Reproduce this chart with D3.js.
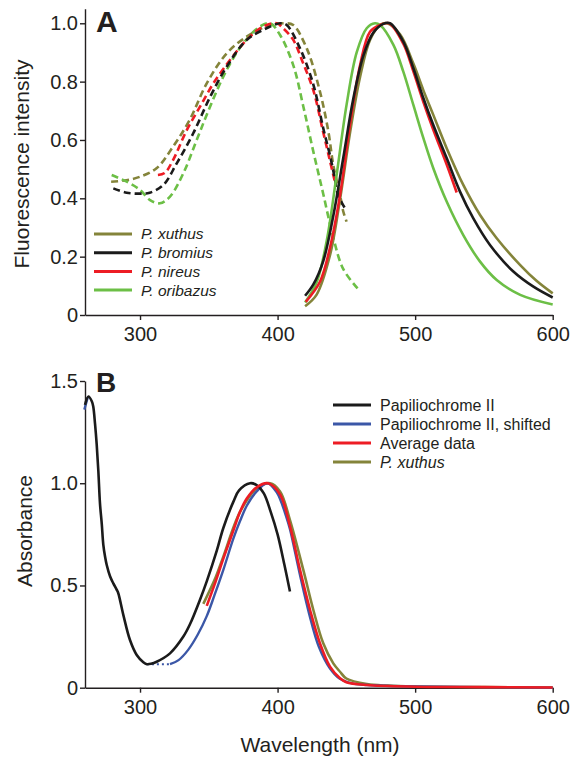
<!DOCTYPE html>
<html>
<head>
<meta charset="utf-8">
<script src="https://cdn.jsdelivr.net/npm/d3@7"></script>
<style>
    body { margin: 0; background: #fff; }
    svg text { font-family: "Liberation Sans", Arial, sans-serif; fill: #231f20; }
    .axis path, .axis line { stroke: #231f20; stroke-width: 1.4; }
    .axis text { font-size: 20px; fill: #231f20; }
</style>
</head>
<body>
<div id="chart"></div>
<script>

// ---- data ----
const wavelengthTicks = [300, 400, 500, 600];
const fluorTicks = [0, 0.2, 0.4, 0.6, 0.8, 1.0];
const absTicks = [0, 0.5, 1.0, 1.5];

const speciesNames = ["P. xuthus", "P. bromius", "P. nireus", "P. oribazus"];

// panel A, excitation (dashed)
const xuthusEx = [[279,0.457],[290,0.462],[300,0.474],[312,0.503],[324,0.577],[336,0.668],[348.5,0.794],[363,0.897],
    [377.5,0.954],[392,0.989],[406,1.0],[411.4,0.994],[421.2,0.914],[430.8,0.766],[436.9,0.629],[440.5,0.514],
    [445.4,0.411],[447.8,0.354],[450.2,0.32]];
const bromiusEx = [[280.6,0.434],[290.3,0.419],[300,0.416],[307,0.419],[317,0.446],[326.7,0.52],[338.7,0.623],[351,0.748],
    [363,0.851],[377.5,0.943],[392,0.983],[402,1.0],[406.6,0.994],[416.3,0.914],[426,0.79],[433.2,0.64],[438,0.549],
    [441.6,0.469],[444,0.411],[449,0.366]];
const nireusEx = [[313,0.48],[318,0.487],[324,0.531],[334,0.634],[343.6,0.714],[353.3,0.794],[365.4,0.874],[377.5,0.943],
    [389.6,0.989],[399.4,1.0],[404,0.983],[411.4,0.943],[418,0.87],[426,0.77],[433,0.63],[438,0.53],[442,0.45]];
const oribazusEx = [[279.4,0.48],[290.3,0.457],[300,0.429],[307.3,0.394],[314.5,0.383],[321.8,0.406],[331.5,0.486],
    [341.2,0.6],[350.9,0.714],[363,0.84],[375,0.931],[387.2,0.989],[394.5,1.0],[401.8,0.96],[411.5,0.855],[418.7,0.715],
    [426,0.56],[433.2,0.415],[440.5,0.265],[447.8,0.157],[458.7,0.088]];

// panel A, emission (solid)
const xuthusEm = [[420,0.03],[428.4,0.07],[438,0.203],[445.4,0.397],[452.6,0.623],[460,0.817],[467.2,0.943],[474.5,0.994],
    [479.3,1.0],[489,0.962],[498.7,0.862],[506,0.77],[513.2,0.686],[523,0.571],[535,0.446],[547.2,0.343],[559.3,0.263],
    [576.4,0.171],[588,0.118],[600,0.074]];
const bromiusEm = [[420,0.066],[426,0.105],[433.2,0.185],[440.5,0.34],[447.8,0.54],[455,0.74],[462.3,0.888],[469.6,0.968],
    [476.9,0.998],[481.7,1.0],[491.4,0.937],[498.7,0.846],[506,0.743],[513.2,0.651],[523,0.537],[532.6,0.423],
    [542.3,0.331],[554.4,0.24],[571.4,0.149],[586,0.097],[600,0.06]];
const nireusEm = [[420.5,0.045],[430.8,0.114],[438,0.229],[445.4,0.411],[452.6,0.651],[460,0.857],[467.2,0.971],
    [474.5,0.994],[481,1.0],[491.4,0.93],[498.7,0.835],[506,0.73],[513.2,0.635],[523,0.515],[530.2,0.42]];
const oribazusEm = [[420,0.043],[428.4,0.112],[435.7,0.254],[443,0.483],[450.2,0.722],[457.5,0.9],[464.8,0.983],
    [470.8,1.0],[474.5,0.994],[484.2,0.926],[491.4,0.834],[498.7,0.72],[506,0.606],[513.2,0.503],[523,0.388],
    [535,0.274],[547.2,0.183],[559.3,0.12],[576.4,0.069],[600,0.036]];

// panel B, absorbance
const absNames = ["Papiliochrome II", "Papiliochrome II, shifted", "Average data", "P. xuthus"];

const papII = [[260,1.383],[262.5,1.424],[265,1.40],[266,1.375],[267.3,1.29],[268.5,1.19],[269.7,1.06],[270.9,0.9],
    [272.2,0.8],[273.3,0.7],[274.6,0.64],[275.8,0.6],[278.2,0.545],[280.6,0.51],[283,0.48],[284.2,0.462],[287.9,0.355],
    [292.7,0.233],[297.6,0.16],[302.4,0.125],[305,0.115],[308,0.117],[312.1,0.127],[321.8,0.168],[331.5,0.25],
    [336.3,0.31],[343.6,0.43],[348.5,0.52],[355.8,0.67],[360.5,0.78],[367.9,0.91],[372,0.965],[380,1.0],[385,0.99],
    [390,0.95],[395,0.86],[400,0.75],[405,0.6],[409,0.47]];
const papIIShiftTip = [[259.5,1.36],[262,1.42]];
const papIIShiftGap = [[305,0.115],[321.8,0.115]];
const papIIShifted = [[321.8,0.115],[328,0.135],[335,0.185],[342,0.26],[348.5,0.35],[354,0.45],[360.5,0.575],
    [367.9,0.73],[372.7,0.815],[377.6,0.89],[384.8,0.96],[392.5,1.0],[399.4,0.955],[406.6,0.83],[409,0.775],[416,0.56],
    [423,0.36],[430,0.2],[438,0.095],[445,0.045],[455,0.02],[470,0.012],[500,0.006],[550,0.003],[600,0.0]];
const averageData = [[348.5,0.4],[355,0.52],[360.5,0.63],[367.9,0.77],[372.7,0.86],[377.6,0.925],[384.8,0.98],[393,1.0],
    [401.8,0.945],[409,0.79],[416.3,0.576],[423.6,0.38],[430.8,0.217],[438.1,0.103],[445.4,0.046],[450,0.027],
    [465,0.013],[500,0.005],[550,0.003],[600,0.001]];
const xuthusAbs = [[346,0.41],[355,0.54],[360.5,0.64],[372.7,0.86],[384.8,0.975],[394.5,1.0],[401.8,0.96],[409,0.82],
    [418.7,0.576],[426,0.38],[433.2,0.217],[440.5,0.119],[445.4,0.078],[450,0.045],[465,0.018],[480,0.01],[500,0.006],
    [550,0.003],[600,0.001]];

// ---- styles ----
const olive = "#84843a", black = "#1b1b1b", red = "#ed1c24", green = "#6cbf46", blue = "#3b57a7";

const svg = d3.select("#chart").append("svg")
    .attr("width", 571)
    .attr("height", 757);

const x = d3.scaleLinear().domain([260, 600]).range([85, 552.7]);
const yA = d3.scaleLinear().domain([0, 1.05]).range([315, 8.7]);
const yB = d3.scaleLinear().domain([0, 1.5]).range([687.7, 381]);

function drawAxes(y, ticks, yTitle, titleY, titleX) {
    svg.append("g")
        .attr("class", "axis")
        .attr("transform", "translate(0," + y.range()[0] + ")")
        .call(d3.axisBottom(x).tickValues(wavelengthTicks).tickSize(5).tickPadding(7).tickSizeOuter(0));

    svg.append("g")
        .attr("class", "axis")
        .attr("transform", "translate(" + x.range()[0] + ",0)")
        .call(d3.axisLeft(y).tickValues(ticks).tickSize(5).tickPadding(2).tickSizeOuter(0)
            .tickFormat(d => d === 0 ? "0" : d3.format(".1f")(d)));

    svg.append("text")
        .attr("transform", "translate(" + titleX + "," + titleY + ") rotate(-90)")
        .attr("text-anchor", "middle")
        .style("font-size", "21px")
        .text(yTitle);
}

function drawLine(data, y, color, dash, width) {
    let line = d3.line()
        .x(d => x(d[0]))
        .y(d => y(d[1]))
        .curve(d3.curveCatmullRom.alpha(0.5));
    svg.append("path")
        .datum(data)
        .attr("fill", "none")
        .attr("stroke", color)
        .attr("stroke-width", width || 2.6)
        .attr("stroke-dasharray", dash)
        .attr("stroke-linejoin", "round")
        .attr("d", line);
}

function drawLegend(names, colors, x0, y0, step, fontSize, italic) {
    names.forEach((name, i) => {
        let yy = y0 + i * step;
        svg.append("line")
            .attr("x1", x0).attr("x2", x0 + 38)
            .attr("y1", yy).attr("y2", yy)
            .attr("stroke", colors[i])
            .attr("stroke-width", 3);
        svg.append("text")
            .attr("x", x0 + 47)
            .attr("y", yy)
            .attr("dy", "0.35em")
            .style("font-size", fontSize + "px")
            .style("font-style", italic[i] ? "italic" : "normal")
            .text(name);
    });
}

// ---- panel A ----
drawAxes(yA, fluorTicks, "Fluorescence intensity", 164, 28.5);

const dash = "7,4";
drawLine(xuthusEx, yA, olive, dash);
drawLine(oribazusEx, yA, green, dash);
drawLine(nireusEx, yA, red, dash);
drawLine(bromiusEx, yA, black, dash);

drawLine(xuthusEm, yA, olive);
drawLine(oribazusEm, yA, green);
drawLine(nireusEm, yA, red);
drawLine(bromiusEm, yA, black);

drawLegend(speciesNames, [olive, black, red, green], 94, 234, 18.7, 15.5, [true, true, true, true]);

svg.append("text")
    .attr("x", 96).attr("y", 32)
    .style("font-size", "30px")
    .style("font-weight", "bold")
    .text("A");

// ---- panel B ----
drawAxes(yB, absTicks, "Absorbance", 531, 31.5);

drawLine(xuthusAbs, yB, olive);
drawLine(papIIShiftTip, yB, blue, null, 2.4);
drawLine(papIIShiftGap, yB, blue, "2,3", 2);
drawLine(papIIShifted, yB, blue, null, 2.4);
drawLine(papII, yB, black);
drawLine(averageData, yB, red);

drawLegend(absNames, [black, blue, red, olive], 333, 405, 19, 16, [false, false, false, true]);

svg.append("text")
    .attr("x", 96).attr("y", 392)
    .style("font-size", "28px")
    .style("font-weight", "bold")
    .text("B");

svg.append("text")
    .attr("x", 320).attr("y", 752)
    .attr("text-anchor", "middle")
    .style("font-size", "21px")
    .text("Wavelength (nm)");

</script>
</body>
</html>
